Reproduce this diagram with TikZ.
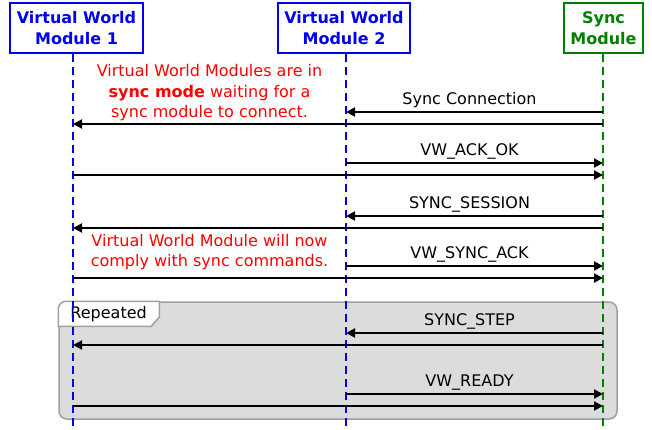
\documentclass[tikz,border=0pt]{standalone}
\usepackage{fontspec}
\setmainfont{DejaVu Sans}
\usetikzlibrary{arrows.meta,positioning,calc}
\definecolor{vwblue}{RGB}{0,0,240}
\definecolor{syncgreen}{RGB}{0,128,0}
\definecolor{notered}{RGB}{255,0,0}
\definecolor{loopfill}{RGB}{220,220,220}
\definecolor{loopedge}{RGB}{160,160,160}
\tikzset{
  module/.style={draw=#1, text=#1, line width=2pt, fill=white, align=center, inner sep=0pt,
    minimum height=50pt, font=\bfseries\fontsize{16}{21}\selectfont},
  lifeline/.style={draw=#1, line width=1.5pt, dash pattern=on 8pt off 5pt},
  msg/.style={line width=2pt, -{Triangle[length=9pt,width=9pt]}},
  msglabel/.style={above, inner sep=3pt, xshift=-5pt, font=\fontsize{16}{19.5}\selectfont},
  note/.style={text=notered, align=center, font=\fontsize{16}{20.5}\selectfont},
  loopframe/.style={draw=loopedge, fill=loopfill, line width=1.5pt, rounded corners=8pt}
}
\begin{document}
\begin{tikzpicture}[x=1pt,y=-1pt]
\useasboundingbox (0,0) rectangle (652,429);

% lifeline positions
\coordinate (l1) at (73,0);
\coordinate (l2) at (346,0);
\coordinate (l3) at (603,0);

\node[loopframe, minimum width=558pt, minimum height=117pt] (loop) at (338,360.5) {};
\draw[draw=loopedge, fill=white, line width=1.5pt]
  ($(loop.north west)+(0,25)$) [rounded corners=8pt] -- (loop.north west)
  [sharp corners] -- ++(101,0) -- ++(0,16) -- ++(-8,9) -- cycle;
\node[anchor=west, inner sep=0pt, font=\fontsize{16}{19.5}\selectfont] (reptxt)
  at ($(loop.north west)+(12,12.5)$) {Repeated};

\node[module=vwblue, minimum width=133pt] (vw1) at (76.5,28) {Virtual World\\Module 1};
\node[module=vwblue, minimum width=132pt] (vw2) at (344,28) {Virtual World\\Module 2};
\node[module=syncgreen, minimum width=79pt] (sync) at (603.5,28) {Sync\\Module};

\draw[lifeline=vwblue] (vw1.south -| l1) -- (l1 |- 0,429);
\draw[lifeline=vwblue] (vw2.south -| l2) -- (l2 |- 0,429);
\draw[lifeline=syncgreen] (sync.south -| l3) -- (l3 |- 0,429);

\node[note] (note1) at (209.5,93) {Virtual World Modules are in\\
  \textbf{sync mode} waiting for a\\sync module to connect.};
\node[note] (note2) at (209.5,252) {Virtual World Module will now\\
  comply with sync commands.};

% messages between module 2 and sync module
\foreach \y/\src/\dst/\txt in {112/l3/l2/Sync Connection, 163/l2/l3/VW\_ACK\_OK,
    216/l3/l2/SYNC\_SESSION, 266/l2/l3/VW\_SYNC\_ACK,
    333/l3/l2/SYNC\_STEP, 394/l2/l3/VW\_READY}
  \draw[msg] (\src |- 0,\y) -- (\dst |- 0,\y) node[midway, msglabel] {\txt};

% messages between module 1 and sync module
\foreach \y/\src/\dst in {124/l3/l1, 175/l1/l3, 228/l3/l1, 278/l1/l3, 345/l3/l1, 406/l1/l3}
  \draw[msg] (\src |- 0,\y) -- (\dst |- 0,\y);
\end{tikzpicture}
\end{document}
